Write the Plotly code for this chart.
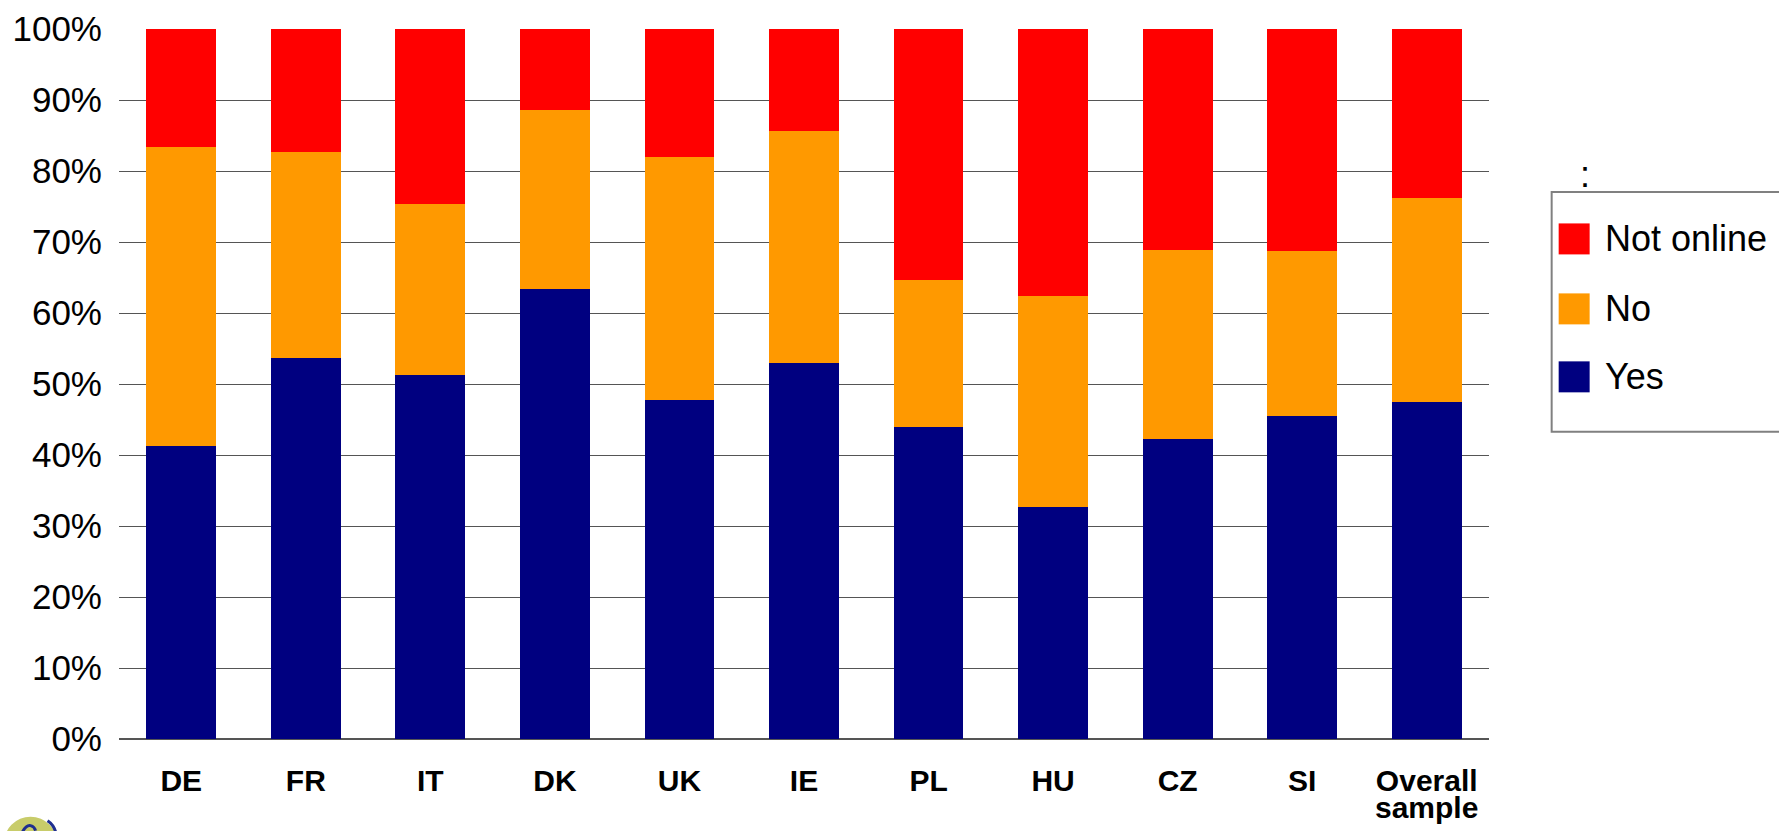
import plotly.graph_objects as go

# Share of respondents per country (percent)
countries = ["DE", "FR", "IT", "DK", "UK", "IE", "PL", "HU", "CZ", "SI", "Overall sample"]
yes = [41.3, 53.7, 51.3, 63.4, 47.8, 53.0, 44.0, 32.7, 42.3, 45.5, 47.4]
no = [42.1, 29.0, 24.1, 25.2, 34.2, 32.7, 20.6, 29.7, 26.6, 23.2, 28.8]
not_online = [round(100 - a - b, 1) for a, b in zip(yes, no)]

tick_labels = ["DE", "FR", "IT", "DK", "UK", "IE", "PL", "HU", "CZ", "SI", "Overall"]
y_ticks = list(range(0, 101, 10))
y_tick_labels = [f"{v}%" for v in y_ticks]

series = [
    ("Yes", yes, "#000080"),
    ("No", no, "#FF9900"),
    ("Not online", not_online, "#FF0000"),
]

W, H = 1779, 831
L, R, T, B = 118.5, 1489.3, 29.0, 739.3


def px(x):
    return (x - L) / (R - L)


def py(y):
    return (B - y) / (B - T)


FONT = "Liberation Sans, Arial, sans-serif"

fig = go.Figure()
for name, vals, color in series:
    fig.add_trace(go.Bar(
        x=countries, y=vals, name=name,
        marker=dict(color=color, line=dict(width=0)),
        showlegend=False,
    ))

shapes = []
annotations = []

# Legend box and entries
shapes.append(dict(type="rect", xref="paper", yref="paper",
                   x0=px(1552), x1=px(1800), y0=py(432), y1=py(192),
                   line=dict(color="#808080", width=2), fillcolor="white"))
legend_rows = [("Not online", "#FF0000", 239), ("No", "#FF9900", 309), ("Yes", "#000080", 377)]
for label, color, yc in legend_rows:
    shapes.append(dict(type="rect", xref="paper", yref="paper",
                       x0=px(1559), x1=px(1590), y0=py(yc + 15.5), y1=py(yc - 15.5),
                       line=dict(width=0), fillcolor=color))
    annotations.append(dict(xref="paper", yref="paper", x=px(1603), y=py(yc),
                            xanchor="left", yanchor="middle", text=label, showarrow=False,
                            font=dict(family=FONT, size=36, color="black")))
annotations.append(dict(xref="paper", yref="paper", x=px(1585), y=py(175),
                        xanchor="center", yanchor="middle", text=":", showarrow=False,
                        font=dict(family=FONT, size=36, color="black")))

# Second line of the last category label
annotations.append(dict(xref="x", yref="paper", x="Overall sample", y=py(808),
                        xanchor="center", yanchor="middle", text="sample", showarrow=False,
                        font=dict(family=FONT, size=30, color="black", weight="bold")))

# Corner logo
shapes.append(dict(type="circle", xref="paper", yref="paper",
                   x0=px(3), x1=px(57), y0=py(873), y1=py(817),
                   line=dict(width=0), fillcolor="#C8CC6A", layer="above"))
shapes.append(dict(type="path", xref="paper", yref="paper",
                   path=f"M {px(22)},{py(832)} Q {px(26)},{py(825)} {px(30)},{py(826)} Q {px(34)},{py(827)} {px(35)},{py(831)}",
                   line=dict(color="#1F2F8F", width=3), layer="above"))
shapes.append(dict(type="path", xref="paper", yref="paper",
                   path=f"M {px(47)},{py(821)} Q {px(53)},{py(825)} {px(55)},{py(832)}",
                   line=dict(color="#1F2F8F", width=3), layer="above"))

fig.update_layout(
    width=W, height=H,
    barmode="stack", bargap=0.44,
    paper_bgcolor="white", plot_bgcolor="white",
    margin=dict(l=L, r=W - R, t=T, b=H - B, autoexpand=False),
    font=dict(family=FONT, color="black"),
    shapes=shapes, annotations=annotations,
    xaxis=dict(
        tickmode="array", tickvals=countries, ticktext=tick_labels,
        tickfont=dict(family=FONT, size=30, color="black", weight="bold"),
        showgrid=False, showline=False, ticks="", ticklabelstandoff=21,
    ),
    yaxis=dict(
        range=[0, 100], tickmode="array", tickvals=y_ticks, ticktext=y_tick_labels,
        tickfont=dict(family=FONT, size=35, color="black"),
        showgrid=True, gridcolor="#555555", gridwidth=1.3,
        zeroline=True, zerolinecolor="#555555", zerolinewidth=1.5,
        showline=False, ticks="", ticklabelstandoff=16,
    ),
)

fig.write_html("out.html")
